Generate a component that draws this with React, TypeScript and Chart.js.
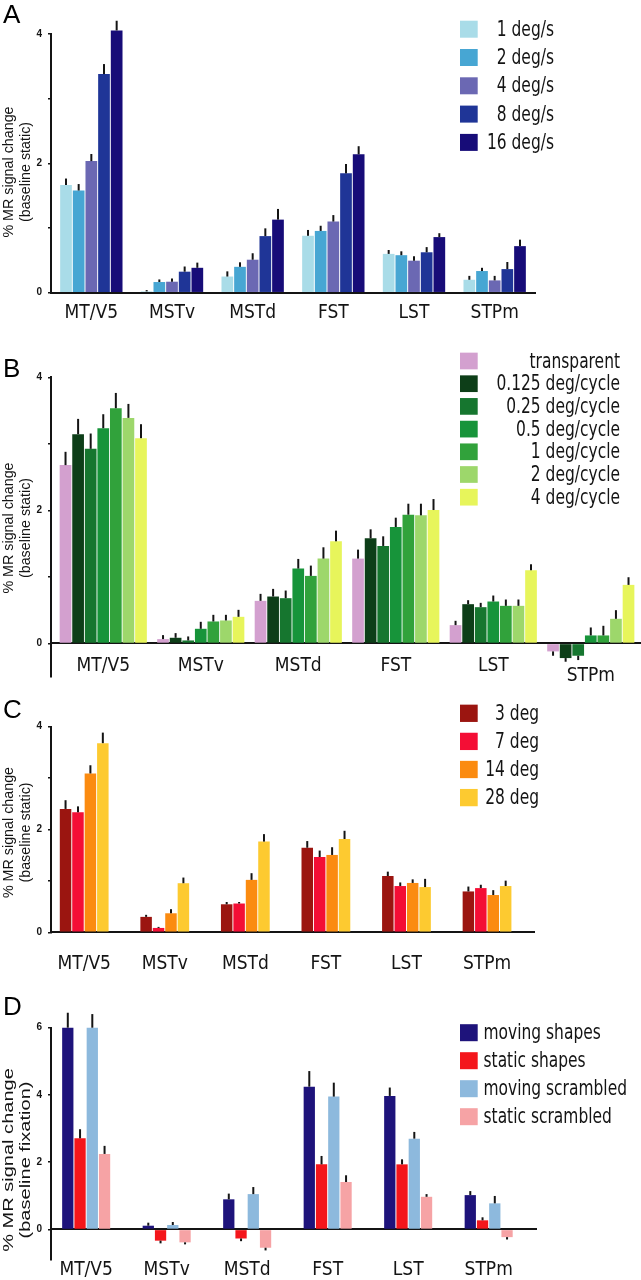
import React, { useEffect, useRef } from 'react';
import { Chart, registerables } from 'chart.js';

Chart.register(...registerables);

// ---------------- data ----------------
const REGIONS = ['MT/V5', 'MSTv', 'MSTd', 'FST', 'LST', 'STPm'];

// Panel A: speed
const A_SERIES = ['1 deg/s', '2 deg/s', '4 deg/s', '8 deg/s', '16 deg/s'];
const A_VALUES = [
  [1.665, 0.02, 0.25, 0.88, 0.6, 0.2],
  [1.58, 0.165, 0.4, 0.955, 0.58, 0.335],
  [2.035, 0.17, 0.51, 1.1, 0.495, 0.19],
  [3.38, 0.325, 0.875, 1.845, 0.625, 0.365],
  [4.055, 0.385, 1.13, 2.14, 0.86, 0.72],
];
const A_ERRORS = [
  [0.1, 0.02, 0.08, 0.09, 0.06, 0.06],
  [0.1, 0.04, 0.07, 0.08, 0.06, 0.05],
  [0.11, 0.05, 0.1, 0.1, 0.07, 0.07],
  [0.155, 0.08, 0.12, 0.145, 0.08, 0.11],
  [0.15, 0.08, 0.165, 0.125, 0.06, 0.1],
];
const A_Y_TICKS = [0, 1, 2, 3, 4];
const A_Y_LABELED = [0, 2, 4];

// Panel B: spatial frequency
const B_SERIES = ['transparent', '0.125 deg/cycle', '0.25 deg/cycle', '0.5 deg/cycle', '1 deg/cycle', '2 deg/cycle', '4 deg/cycle'];
const B_VALUES = [
  [2.68, 0.065, 0.64, 1.275, 0.275, -0.12],
  [3.145, 0.085, 0.705, 1.58, 0.59, -0.22],
  [2.925, 0.045, 0.68, 1.465, 0.545, -0.185],
  [3.235, 0.22, 1.125, 1.75, 0.63, 0.12],
  [3.535, 0.33, 1.015, 1.935, 0.565, 0.12],
  [3.39, 0.345, 1.275, 1.925, 0.565, 0.37],
  [3.085, 0.4, 1.535, 2.005, 1.1, 0.88],
];
const B_ERRORS = [
  [0.2, 0.06, 0.105, 0.135, 0.065, 0.065],
  [0.23, 0.07, 0.115, 0.135, 0.06, 0.055],
  [0.23, 0.06, 0.115, 0.145, 0.065, 0.065],
  [0.21, 0.105, 0.145, 0.14, 0.09, 0.12],
  [0.23, 0.1, 0.155, 0.165, 0.095, 0.145],
  [0.21, 0.085, 0.17, 0.175, 0.095, 0.13],
  [0.21, 0.105, 0.16, 0.165, 0.09, 0.115],
];
const B_Y_TICKS = [0, 1, 2, 3, 4];
const B_Y_LABELED = [0, 2, 4];

// Panel C: stimulus size
const C_SERIES = ['3 deg', '7 deg', '14 deg', '28 deg'];
const C_VALUES = [
  [2.4, 0.3, 0.545, 1.645, 1.095, 0.795],
  [2.335, 0.085, 0.56, 1.465, 0.9, 0.86],
  [3.09, 0.37, 1.02, 1.505, 0.96, 0.725],
  [3.68, 0.955, 1.765, 1.815, 0.88, 0.9],
];
const C_ERRORS = [
  [0.17, 0.04, 0.045, 0.13, 0.085, 0.095],
  [0.115, 0.02, 0.03, 0.125, 0.07, 0.065],
  [0.16, 0.08, 0.13, 0.15, 0.07, 0.095],
  [0.205, 0.11, 0.145, 0.16, 0.16, 0.105],
];
const C_Y_TICKS = [0, 1, 2, 3, 4];
const C_Y_LABELED = [0, 2, 4];

// Panel D: shapes
const D_SERIES = ['moving shapes', 'static shapes', 'moving scrambled', 'static scrambled'];
const D_VALUES = [
  [6.0, 0.11, 0.895, 4.245, 3.97, 1.02],
  [2.71, -0.335, -0.27, 1.935, 1.935, 0.27],
  [6.0, 0.13, 1.05, 3.95, 2.7, 0.775],
  [2.245, -0.385, -0.545, 1.41, 0.97, -0.23],
];
const D_ERRORS = [
  [0.445, 0.09, 0.17, 0.465, 0.25, 0.12],
  [0.27, 0.08, 0.08, 0.25, 0.15, 0.09],
  [0.405, 0.09, 0.21, 0.415, 0.2, 0.22],
  [0.24, 0.06, 0.08, 0.2, 0.08, 0.07],
];
const D_Y_TICKS = [0, 2, 4, 6];
const D_Y_LABELED = [0, 2, 4, 6];

// ---------------- styles ----------------
const A_COLORS = ['#a9dce8', '#47a6d3', '#6b68b3', '#1f3597', '#170c78'];
const B_COLORS = ['#d3a0cf', '#0d3e18', '#16762f', '#17943a', '#31a23b', '#9dd76b', '#e7f55b'];
const C_COLORS = ['#9b1510', '#f40e35', '#fb8b10', '#fdca30'];
const D_COLORS = ['#1e137b', '#f4161b', '#8db9dd', '#f6a3a5'];

const NARROW = "'DejaVu Sans Condensed', 'Liberation Sans Narrow', sans-serif";
const SANS = "'Liberation Sans', Arial, sans-serif";
const INK = '#141414';
const W = 641;
const LABEL_SIZE = 19;
const LABEL_LH = 1.2;

const PANELS = [
  {
    key: 'A', top: 0, height: 330,
    series: A_SERIES, values: A_VALUES, errors: A_ERRORS, colors: A_COLORS,
    yMin: 0, yMax: 4, yTicks: A_Y_TICKS, yLabeled: A_Y_LABELED,
    yTitle: ['% MR signal change', '(baseline static)'],
    xMin: -0.5, xMax: 5.5, padTop: 34, padBottom: 37.3, padRight: 106,
    catPct: 0.785, barPct: 0.924, labelPad: 9.2, dropIndex: -1,
    letterY: 23.3, titleY: 172, titleStretch: 1,
    legend: { first: 29.2, step: 28.3, boxH: 17, align: 'right', textX: 554 },
  },
  {
    key: 'B', top: 330, height: 360,
    series: B_SERIES, values: B_VALUES, errors: B_ERRORS, colors: B_COLORS,
    yMin: -0.5, yMax: 4, yTicks: B_Y_TICKS, yLabeled: B_Y_LABELED,
    yTitle: ['% MR signal change', '(baseline static)'],
    xMin: -0.536, xMax: 5.515, padTop: 47.3, padBottom: 13.3, padRight: 0,
    catPct: 0.903, barPct: 0.93, labelPad: 10.9, dropIndex: 5,
    letterY: 46.7, titleY: 198, titleStretch: 1,
    legend: { first: 31, step: 22.7, boxH: 16.7, align: 'right', textX: 620 },
  },
  {
    key: 'C', top: 690, height: 285,
    series: C_SERIES, values: C_VALUES, errors: C_ERRORS, colors: C_COLORS,
    yMin: 0, yMax: 4, yTicks: C_Y_TICKS, yLabeled: C_Y_LABELED,
    yTitle: ['% MR signal change', '(baseline static)'],
    xMin: -0.412, xMax: 5.583, padTop: 36.7, padBottom: 42.7, padRight: 107,
    catPct: 0.617, barPct: 0.925, labelPad: 20.8, dropIndex: -1,
    letterY: 28.3, titleY: 142.5, titleStretch: 1,
    legend: { first: 23.3, step: 28.1, boxH: 17.3, align: 'right', textX: 539 },
  },
  {
    key: 'D', top: 975, height: 305,
    series: D_SERIES, values: D_VALUES, errors: D_ERRORS, colors: D_COLORS,
    yMin: -0.91, yMax: 6, yTicks: D_Y_TICKS, yLabeled: D_Y_LABELED,
    yTitle: ['% MR signal change', '(baseline fixation)'],
    xMin: -0.437, xMax: 5.588, padTop: 52.7, padBottom: 20, padRight: 105,
    catPct: 0.609, barPct: 0.92, labelPad: 29.3, dropIndex: -1,
    letterY: 40, titleY: 185, titleStretch: 1.4,
    legend: { first: 57.7, step: 28, boxH: 17, align: 'left', textX: 483.5 },
  },
];

function makeDecor(p: any) {
  return {
    id: 'decor' + p.key,
    afterDatasetsDraw(chart: any) {
      const ctx = chart.ctx;
      const ys = chart.scales.y;
      ctx.save();
      ctx.strokeStyle = INK;
      ctx.lineWidth = 2;
      chart.data.datasets.forEach((ds: any, di: number) => {
        const meta = chart.getDatasetMeta(di);
        meta.data.forEach((el: any, i: number) => {
          const v = ds.data[i];
          const e = ds.errors[i];
          const end = v >= 0 ? v + e : v - e;
          ctx.beginPath();
          ctx.moveTo(el.x, ys.getPixelForValue(v));
          ctx.lineTo(el.x, ys.getPixelForValue(end));
          ctx.stroke();
        });
      });
      ctx.restore();
    },
    afterDraw(chart: any) {
      const ctx = chart.ctx;
      ctx.save();
      // panel letter
      ctx.fillStyle = '#000';
      ctx.font = `26px ${SANS}`;
      ctx.textAlign = 'left';
      ctx.textBaseline = 'alphabetic';
      ctx.fillText(p.key, 3, p.letterY);
      // y-axis title (two rotated lines)
      ctx.font = `14.3px ${SANS}`;
      ctx.fillStyle = INK;
      ctx.textAlign = 'center';
      const baseX = [12.5, 29.5];
      p.yTitle.forEach((line: string, i: number) => {
        ctx.save();
        ctx.translate(baseX[i], p.titleY);
        ctx.rotate(-Math.PI / 2);
        ctx.scale(p.titleStretch, 1);
        ctx.fillText(line, 0, 0);
        ctx.restore();
      });
      // legend
      const lg = p.legend;
      ctx.font = `21.5px ${NARROW}`;
      ctx.textBaseline = 'middle';
      ctx.textAlign = lg.align;
      p.series.forEach((name: string, i: number) => {
        const cy = lg.first + i * lg.step;
        ctx.fillStyle = p.colors[i];
        ctx.fillRect(460, cy - lg.boxH / 2, 17.7, lg.boxH);
        ctx.fillStyle = INK;
        ctx.save();
        ctx.translate(lg.textX, cy + 1);
        ctx.scale(0.8, 1);
        ctx.fillText(name, 0, 0);
        ctx.restore();
      });
      ctx.restore();
    },
  };
}

function buildConfig(p: any): any {
  const labels = REGIONS.map((_, i) => i);
  const dropLH = (LABEL_SIZE * LABEL_LH / 2 + 10) / 1.5 / LABEL_SIZE;
  const datasets = p.series.map((name: string, si: number) => ({
    label: name,
    data: p.values[si],
    errors: p.errors[si],
    backgroundColor: p.colors[si],
    borderWidth: 0,
    categoryPercentage: p.catPct,
    barPercentage: p.barPct,
    clip: false,
  }));
  return {
    type: 'bar',
    data: { labels, datasets },
    options: {
      animation: false,
      responsive: false,
      devicePixelRatio: 1,
      events: [],
      layout: { padding: { top: p.padTop, bottom: p.padBottom, left: 0, right: p.padRight } },
      plugins: { legend: { display: false }, tooltip: { enabled: false }, title: { display: false } },
      scales: {
        x: {
          type: 'linear',
          position: { y: 0 },
          min: p.xMin,
          max: p.xMax,
          offset: false,
          z: 1,
          afterBuildTicks: (s: any) => {
            s.ticks = REGIONS.map((_, i) => ({ value: i }));
          },
          grid: { display: false, drawTicks: false, offset: false },
          border: { display: true, color: INK, width: 2 },
          ticks: {
            autoSkip: false,
            maxRotation: 0,
            minRotation: 0,
            padding: p.labelPad,
            color: INK,
            font: (c: any) => ({
              family: NARROW,
              size: LABEL_SIZE,
              lineHeight: c.index === p.dropIndex ? dropLH : LABEL_LH,
            }),
            callback: (v: any, i: number) => (i === p.dropIndex ? ['', REGIONS[i]] : REGIONS[i]),
          },
        },
        y: {
          type: 'linear',
          min: p.yMin,
          max: p.yMax,
          afterBuildTicks: (s: any) => {
            s.ticks = p.yTicks.map((v: number) => ({ value: v }));
          },
          afterFit: (s: any) => {
            s.width = 51;
          },
          grid: { display: true, drawOnChartArea: false, drawTicks: true, tickLength: 3, color: INK, lineWidth: 1.5 },
          border: { display: true, color: INK, width: 2 },
          ticks: {
            padding: 6,
            color: INK,
            font: { family: SANS, size: 10, weight: 'bold' },
            callback: (v: any) => (p.yLabeled.includes(v) ? String(v) : ''),
          },
          title: { display: false },
        },
      },
    },
    plugins: [makeDecor(p)],
  };
}

function Panel({ p }: { p: any }) {
  const ref = useRef<HTMLCanvasElement>(null);
  useEffect(() => {
    const chart = new Chart(ref.current as HTMLCanvasElement, buildConfig(p));
    return () => chart.destroy();
  }, [p]);
  return (
    <canvas
      ref={ref}
      width={W}
      height={p.height}
      style={{ position: 'absolute', left: 0, top: p.top, width: W, height: p.height }}
    />
  );
}

export default function App() {
  useEffect(() => {
    document.body.style.margin = '0';
    document.body.style.overflow = 'hidden';
  }, []);
  return (
    <div style={{ position: 'absolute', left: 0, top: 0, width: W, height: 1280, background: '#fff' }}>
      {PANELS.map((p) => (
        <Panel key={p.key} p={p} />
      ))}
    </div>
  );
}
